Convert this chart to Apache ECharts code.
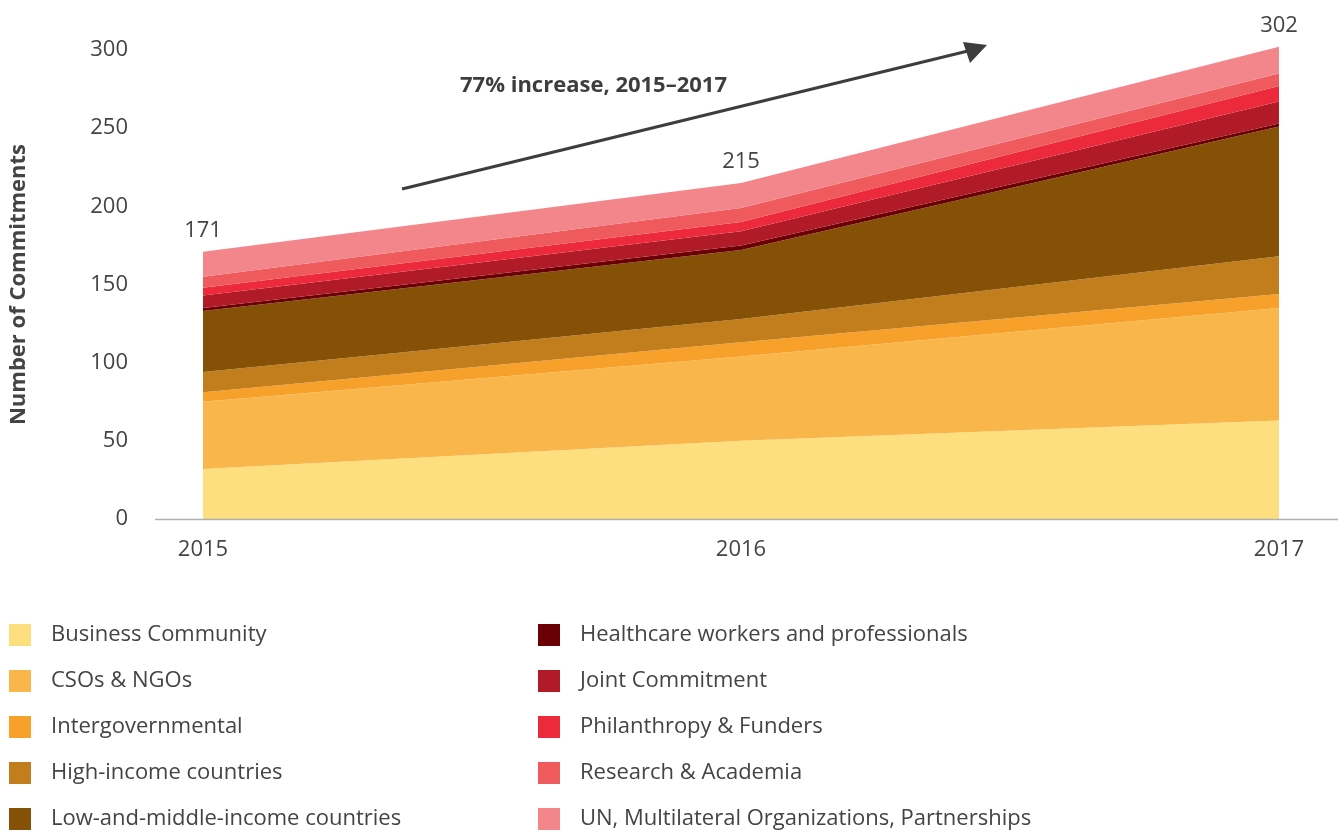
<!DOCTYPE html>
<html>
<head>
<meta charset="utf-8">
<script src="https://cdn.jsdelivr.net/npm/echarts@6/dist/echarts.min.js"></script>
<style>
  html, body { margin: 0; padding: 0; background: #fff; }
  #grafico { width: 1340px; height: 834px; }
</style>
</head>
<body>
<div id="grafico"></div>
<script>
// datos
const years = ['2015', '2016', '2017'];
const totals = [171, 215, 302];

const names = [
  'Business Community', 'CSOs & NGOs', 'Intergovernmental', 'High-income countries',
  'Low-and-middle-income countries', 'Healthcare workers and professionals',
  'Joint Commitment', 'Philanthropy & Funders', 'Research & Academia',
  'UN, Multilateral Organizations, Partnerships'
];
const business = [32, 50, 63];
const csos = [43, 54, 72];
const intergov = [6, 9, 9];
const highIncome = [13, 15, 24];
const lmic = [39, 44, 83];
const healthcare = [2, 3, 2];
const joint = [8, 9, 14];
const philanthropy = [5, 6, 10];
const research = [7, 9, 8];
const un = [16, 16, 17];

const colores = ['#FDDF80', '#F9B74B', '#F7A12B', '#C27D1C', '#845107',
  '#6A0006', '#B11A27', '#EC2A3C', '#EF5A5D', '#F2868B'];

const valores = [business, csos, intergov, highIncome, lmic, healthcare, joint, philanthropy, research, un];

document.addEventListener('DOMContentLoaded', function () {
  const chart = echarts.init(document.getElementById('grafico'));
  const fuente = 'Open Sans';
  const texto = '#444';

  const series = valores.map(function (vals, i) {
    const s = {
      name: names[i],
      type: 'line',
      stack: 'total',
      clip: false,
      symbol: 'none',
      lineStyle: { width: 0 },
      areaStyle: { color: colores[i], opacity: 1 },
      itemStyle: { color: colores[i] },
      data: vals
    };
    // la serie de arriba lleva los totales
    if (i === valores.length - 1) {
      s.symbol = 'circle';
      s.symbolSize = 0;
      s.showSymbol = true;
      s.label = {
        show: true,
        position: 'top',
        distance: 10,
        fontFamily: fuente,
        fontSize: 22,
        color: texto,
        formatter: function (p) { return totals[p.dataIndex]; }
      };
    }
    return s;
  });

  const legendBase = {
    orient: 'vertical',
    top: 619,
    height: 230,
    itemWidth: 22,
    itemHeight: 22,
    itemGap: 24,
    icon: 'rect',
    textStyle: { fontFamily: fuente, fontSize: 22, color: texto, padding: [2, 0, 0, 15] }
  };

  chart.setOption({
    animation: false,
    grid: { left: 203, right: 61, top: 50, bottom: 315 },
    legend: [
      Object.assign({}, legendBase, { left: 4, data: names.slice(0, 5) }),
      Object.assign({}, legendBase, { left: 533, data: names.slice(5) })
    ],
    xAxis: {
      type: 'category',
      boundaryGap: false,
      data: years,
      axisLine: { show: false },
      axisTick: { show: false },
      axisLabel: {
        margin: 20,
        fontFamily: fuente,
        fontSize: 22,
        color: texto
      }
    },
    yAxis: {
      type: 'value',
      min: 0,
      max: 300,
      interval: 50,
      name: 'Number of Commitments',
      nameLocation: 'middle',
      nameGap: 173,
      nameTextStyle: { fontFamily: fuente, fontSize: 22, fontWeight: 'bold', color: texto },
      splitLine: { show: false },
      axisLine: { show: false },
      axisTick: { show: false },
      axisLabel: {
        margin: 75,
        fontFamily: fuente,
        fontSize: 22,
        color: texto
      }
    },
    graphic: [
      {
        // línea base del eje x
        type: 'line',
        z: 10,
        shape: { x1: 155, y1: 519.5, x2: 1338, y2: 519.5 },
        style: { stroke: '#b0b0b0', lineWidth: 1.5 }
      },
      {
        type: 'line',
        shape: { x1: 402, y1: 189, x2: 972, y2: 50 },
        style: { stroke: '#3d3d3d', lineWidth: 3 }
      },
      {
        type: 'polygon',
        shape: { points: [[987, 45], [963, 42], [970, 63]] },
        style: { fill: '#3d3d3d' }
      },
      {
        type: 'text',
        left: 460,
        top: 75,
        style: {
          text: '77% increase, 2015–2017',
          fontFamily: fuente,
          fontSize: 22,
          fontWeight: 'bold',
          fill: '#3d3d3d'
        }
      }
    ],
    series: series
  });
});
</script>
</body>
</html>
